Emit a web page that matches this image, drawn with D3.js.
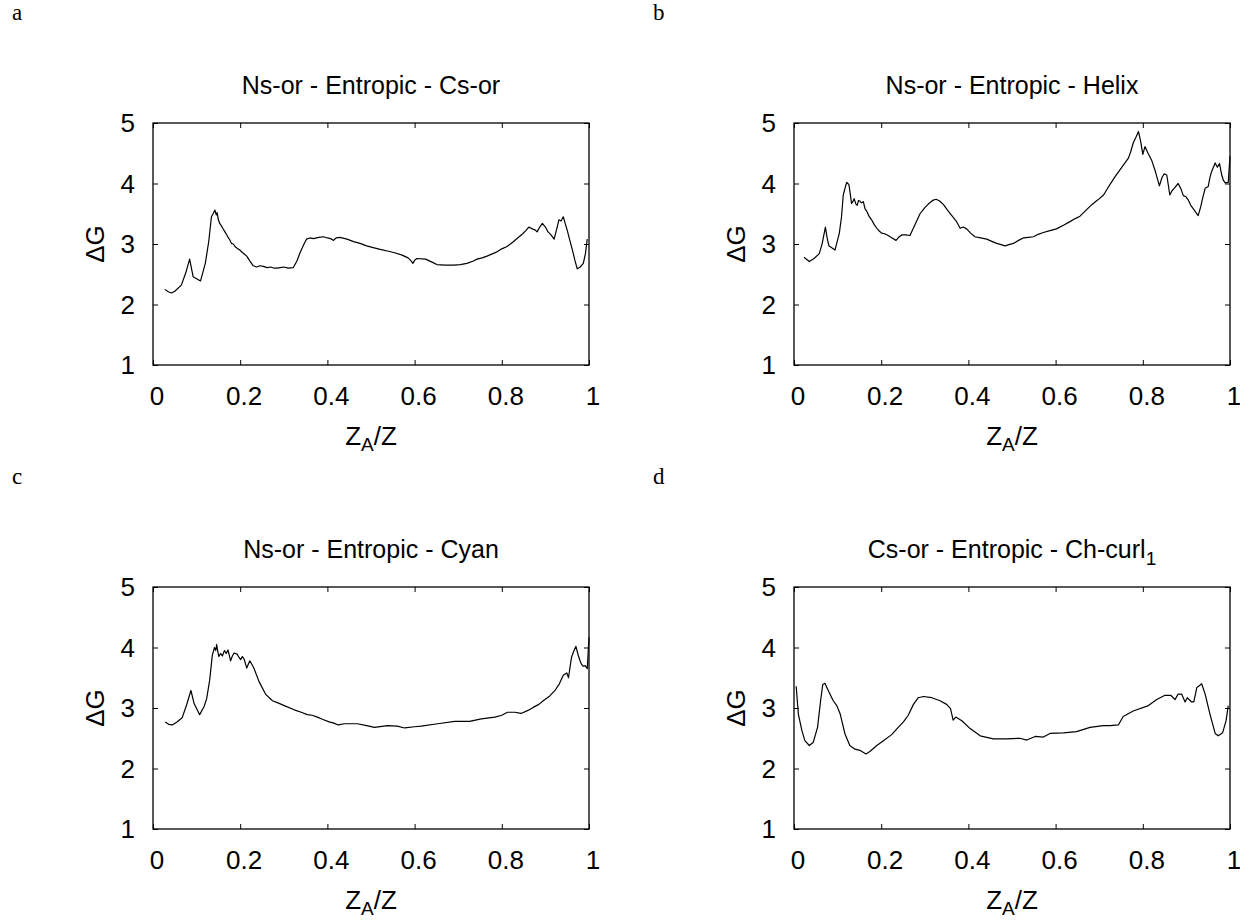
<!DOCTYPE html>
<html>
<head>
<meta charset="utf-8">
<script src="https://cdn.jsdelivr.net/npm/d3@7"></script>
<style>
  body { margin: 0; background: #fff; }
  svg text { fill: #000; }
</style>
</head>
<body>
<div id="chart"></div>
<script>
// tick values shared by all four panels
const xTicks = [0, 0.2, 0.4, 0.6, 0.8, 1];
const yTicks = [1, 2, 3, 4, 5];

const panelLetters = ["a", "b", "c", "d"];
const panelTitles = [
  "Ns-or - Entropic - Cs-or",
  "Ns-or - Entropic - Helix",
  "Ns-or - Entropic - Cyan",
  "Cs-or - Entropic - Ch-curl"
];
const titleSubs = ["", "", "", "1"];

// panel a : Ns-or - Entropic - Cs-or
const aX = [0.027,0.035,0.042,0.050,0.065,0.075,0.084,0.092,0.109,0.120,0.128,0.134,0.138,0.142,0.145,0.147,0.150,0.153,0.157,0.160,0.165,0.170,0.173,0.176,0.180,0.184,0.188,0.193,0.199,0.205,0.210,0.215,0.222,0.230,0.238,0.245,0.253,0.262,0.270,0.278,0.284,0.292,0.300,0.310,0.322,0.330,0.337,0.345,0.352,0.360,0.368,0.380,0.391,0.400,0.407,0.414,0.420,0.429,0.445,0.460,0.475,0.490,0.505,0.521,0.540,0.552,0.570,0.585,0.592,0.596,0.600,0.605,0.625,0.640,0.651,0.670,0.690,0.705,0.720,0.735,0.743,0.755,0.766,0.789,0.800,0.812,0.825,0.835,0.848,0.855,0.862,0.870,0.877,0.881,0.887,0.893,0.900,0.906,0.912,0.920,0.926,0.931,0.936,0.941,0.945,0.950,0.956,0.962,0.968,0.973,0.980,0.987,0.992,0.996];
const aY = [2.25,2.21,2.19,2.22,2.32,2.52,2.75,2.46,2.39,2.68,3.05,3.45,3.50,3.56,3.48,3.52,3.40,3.34,3.30,3.26,3.20,3.14,3.10,3.07,3.01,3.00,2.96,2.93,2.90,2.86,2.83,2.80,2.72,2.64,2.62,2.64,2.63,2.61,2.62,2.60,2.60,2.61,2.62,2.60,2.61,2.72,2.85,2.98,3.08,3.10,3.09,3.11,3.12,3.10,3.09,3.06,3.10,3.11,3.08,3.04,3.01,2.97,2.94,2.91,2.88,2.86,2.82,2.77,2.72,2.68,2.73,2.76,2.75,2.70,2.66,2.65,2.65,2.66,2.68,2.72,2.75,2.77,2.80,2.87,2.92,2.96,3.03,3.09,3.17,3.22,3.28,3.25,3.23,3.20,3.28,3.34,3.28,3.20,3.16,3.08,3.25,3.40,3.38,3.45,3.35,3.23,3.06,2.90,2.72,2.59,2.62,2.68,2.85,3.08];

// panel b : Ns-or - Entropic - Helix
const bX = [0.023,0.035,0.046,0.058,0.065,0.072,0.076,0.080,0.094,0.104,0.109,0.113,0.118,0.121,0.126,0.130,0.132,0.135,0.138,0.142,0.145,0.148,0.151,0.155,0.159,0.163,0.167,0.172,0.178,0.184,0.190,0.196,0.201,0.208,0.216,0.225,0.234,0.240,0.247,0.256,0.266,0.275,0.289,0.300,0.308,0.318,0.326,0.334,0.343,0.352,0.362,0.372,0.381,0.388,0.396,0.405,0.415,0.428,0.442,0.455,0.465,0.475,0.484,0.493,0.503,0.515,0.526,0.538,0.549,0.560,0.572,0.587,0.602,0.618,0.633,0.645,0.656,0.670,0.683,0.697,0.710,0.720,0.729,0.738,0.748,0.757,0.767,0.772,0.778,0.784,0.790,0.795,0.800,0.805,0.812,0.820,0.828,0.838,0.844,0.849,0.855,0.862,0.867,0.872,0.881,0.887,0.893,0.899,0.904,0.910,0.916,0.922,0.927,0.933,0.938,0.943,0.950,0.954,0.958,0.966,0.971,0.976,0.981,0.985,0.989,0.996,1.000];
const bY = [2.78,2.71,2.76,2.84,3.02,3.28,3.10,2.97,2.90,3.18,3.45,3.81,3.95,4.02,3.98,3.78,3.67,3.70,3.75,3.66,3.64,3.72,3.71,3.68,3.70,3.58,3.54,3.46,3.40,3.32,3.26,3.21,3.18,3.17,3.14,3.10,3.06,3.11,3.15,3.15,3.14,3.28,3.50,3.60,3.66,3.72,3.74,3.71,3.65,3.56,3.47,3.38,3.26,3.28,3.25,3.18,3.12,3.10,3.08,3.04,3.01,2.99,2.97,2.99,3.01,3.06,3.10,3.11,3.12,3.16,3.19,3.22,3.25,3.31,3.37,3.42,3.46,3.56,3.65,3.73,3.81,3.93,4.03,4.13,4.23,4.32,4.42,4.52,4.67,4.76,4.86,4.70,4.48,4.61,4.50,4.39,4.22,3.96,4.10,4.16,4.14,3.81,3.88,3.92,4.00,3.92,3.80,3.78,3.73,3.64,3.58,3.52,3.47,3.62,3.78,3.92,3.95,4.10,4.20,4.34,4.27,4.33,4.14,4.05,4.01,4.02,4.45];

// panel c : Ns-or - Entropic - Cyan
const cX = [0.028,0.036,0.044,0.055,0.067,0.077,0.087,0.094,0.107,0.117,0.123,0.130,0.136,0.141,0.144,0.146,0.149,0.151,0.155,0.159,0.164,0.168,0.172,0.178,0.182,0.186,0.193,0.197,0.201,0.205,0.209,0.215,0.222,0.227,0.232,0.243,0.258,0.274,0.288,0.301,0.324,0.340,0.354,0.365,0.377,0.390,0.404,0.415,0.425,0.439,0.469,0.490,0.508,0.538,0.560,0.577,0.600,0.615,0.653,0.692,0.726,0.753,0.784,0.800,0.813,0.830,0.844,0.860,0.872,0.885,0.895,0.910,0.922,0.932,0.941,0.949,0.953,0.957,0.960,0.965,0.970,0.975,0.979,0.983,0.987,0.991,0.996,1.000];
const cY = [2.77,2.73,2.72,2.77,2.84,3.05,3.29,3.08,2.89,3.02,3.15,3.46,3.87,4.00,3.95,4.05,3.92,3.85,3.90,3.86,3.95,3.90,3.96,3.78,3.86,3.91,3.89,3.84,3.80,3.85,3.81,3.66,3.78,3.72,3.65,3.44,3.23,3.12,3.08,3.04,2.97,2.93,2.89,2.88,2.85,2.81,2.77,2.75,2.72,2.74,2.74,2.71,2.68,2.71,2.70,2.67,2.69,2.70,2.74,2.78,2.78,2.82,2.85,2.88,2.93,2.93,2.91,2.96,3.01,3.06,3.12,3.20,3.29,3.40,3.54,3.58,3.50,3.70,3.84,3.94,4.02,3.88,3.79,3.72,3.69,3.70,3.65,4.17];

// panel d : Cs-or - Entropic - Ch-curl1
const dX = [0.005,0.010,0.018,0.025,0.035,0.044,0.054,0.061,0.066,0.071,0.079,0.090,0.098,0.106,0.117,0.128,0.140,0.151,0.165,0.174,0.190,0.205,0.224,0.239,0.251,0.262,0.274,0.285,0.297,0.316,0.335,0.350,0.359,0.365,0.371,0.385,0.404,0.427,0.457,0.488,0.518,0.534,0.553,0.572,0.587,0.618,0.648,0.679,0.709,0.725,0.744,0.755,0.778,0.813,0.832,0.851,0.864,0.874,0.881,0.889,0.897,0.902,0.912,0.917,0.924,0.930,0.935,0.943,0.954,0.966,0.973,0.983,0.991,0.996];
const dY = [3.36,2.90,2.63,2.46,2.38,2.43,2.68,3.12,3.39,3.41,3.28,3.12,3.04,2.90,2.57,2.38,2.32,2.30,2.24,2.28,2.38,2.46,2.56,2.68,2.77,2.88,3.06,3.17,3.19,3.17,3.12,3.06,2.99,2.80,2.85,2.79,2.66,2.54,2.49,2.49,2.50,2.47,2.53,2.52,2.58,2.59,2.61,2.68,2.71,2.71,2.72,2.86,2.95,3.04,3.14,3.21,3.21,3.14,3.23,3.23,3.10,3.17,3.10,3.10,3.34,3.37,3.40,3.23,2.90,2.58,2.54,2.59,2.79,3.04];

const series = [[aX, aY], [bX, bY], [cX, cY], [dX, dY]];

const W = 1240, H = 920;
const svg = d3.select("#chart").append("svg")
  .attr("width", W)
  .attr("height", H)
  .style("font-family", "'Liberation Sans', Arial, sans-serif");

// plot boxes (left, top) ; all panels share the same size
const origins = [[153, 123], [794, 123], [153, 587], [794, 587]];
const pw = 436, ph = 242;

const x = d3.scaleLinear().domain([0, 1]).range([0, pw]);
const y = d3.scaleLinear().domain([1, 5]).range([ph, 0]);

const line = d3.line()
  .x(d => x(d[0]))
  .y(d => y(d[1]));

origins.forEach((o, i) => {
  const g = svg.append("g")
    .attr("transform", `translate(${o[0]},${o[1]})`);

  // panel letter
  svg.append("text")
    .attr("x", o[0] - 141)
    .attr("y", o[1] - 103)
    .style("font-family", "'Liberation Serif', 'DejaVu Serif', serif")
    .style("font-size", "23px")
    .text(panelLetters[i]);

  // title
  const t = g.append("text")
    .attr("x", pw / 2)
    .attr("y", -29)
    .attr("text-anchor", "middle")
    .style("font-size", "25px")
    .text(panelTitles[i]);
  if (titleSubs[i]) {
    t.append("tspan")
      .attr("dy", 7)
      .style("font-size", "19px")
      .text(titleSubs[i]);
  }

  // ticks, inside, mirrored on all sides
  const axB = d3.axisBottom(x).tickValues(xTicks).tickSize(-5).tickFormat("");
  const axT = d3.axisTop(x).tickValues(xTicks).tickSize(-5).tickFormat("");
  const axL = d3.axisLeft(y).tickValues(yTicks).tickSize(-5).tickFormat("");
  const axR = d3.axisRight(y).tickValues(yTicks).tickSize(-5).tickFormat("");
  g.append("g").attr("transform", `translate(0,${ph})`).call(axB);
  g.append("g").call(axT);
  g.append("g").call(axL);
  g.append("g").attr("transform", `translate(${pw},0)`).call(axR);
  g.selectAll(".domain").remove();
  g.selectAll(".tick line").attr("stroke", "#000").attr("stroke-width", 1);

  g.append("rect")
    .attr("width", pw)
    .attr("height", ph)
    .attr("fill", "none")
    .attr("stroke", "#000")
    .attr("stroke-width", 1.3);

  // tick labels
  g.selectAll(".xl")
    .data(xTicks)
    .enter().append("text")
    .attr("class", "xl")
    .attr("x", d => x(d) + 4)
    .attr("y", ph + 40)
    .attr("text-anchor", "middle")
    .style("font-size", "26px")
    .text(d => d);

  g.selectAll(".yl")
    .data(yTicks)
    .enter().append("text")
    .attr("class", "yl")
    .attr("x", -18)
    .attr("y", d => y(d) + 9)
    .attr("text-anchor", "end")
    .style("font-size", "26px")
    .text(d => d);

  // axis titles
  const xl = g.append("text")
    .attr("x", pw / 2)
    .attr("y", ph + 80)
    .attr("text-anchor", "middle")
    .style("font-size", "26px");
  xl.append("tspan").text("Z");
  xl.append("tspan").attr("dy", 6).style("font-size", "19px").text("A");
  xl.append("tspan").attr("dy", -6).text("/Z");

  g.append("text")
    .attr("transform", `translate(-49,${ph / 2}) rotate(-90)`)
    .attr("text-anchor", "middle")
    .style("font-size", "26px")
    .text("ΔG");

  // the curve
  const [xs, ys] = series[i];
  g.append("path")
    .datum(xs.map((v, k) => [v, ys[k]]))
    .attr("fill", "none")
    .attr("stroke", "#000")
    .attr("stroke-width", 1.2)
    .attr("stroke-linejoin", "round")
    .attr("d", line);
});
</script>
</body>
</html>
